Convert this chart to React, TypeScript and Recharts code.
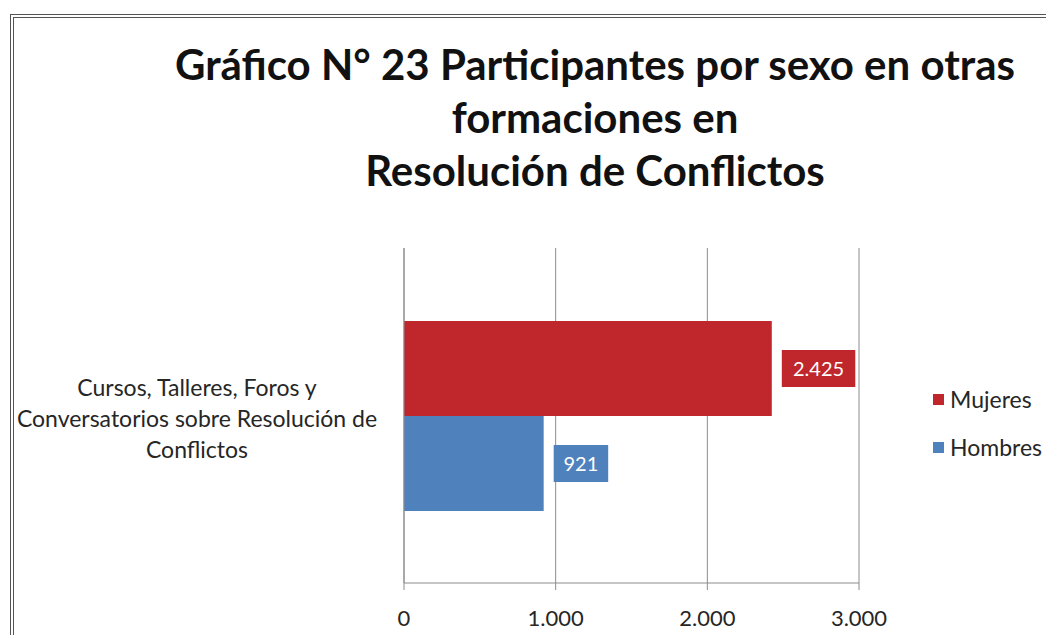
import { BarChart, Bar, XAxis, YAxis, CartesianGrid, LabelList } from 'recharts'

const categories = ['Cursos, Talleres, Foros y|Conversatorios sobre Resolución de|Conflictos']
const mujeres = [2425]
const hombres = [921]
const xTicks = [0, 1000, 2000, 3000]

const series = [
  { key: 'mujeres', name: 'Mujeres', color: '#C0272D', values: mujeres },
  { key: 'hombres', name: 'Hombres', color: '#4F81BD', values: hombres },
]

const data = categories.map((c, i) => ({
  category: c,
  mujeres: mujeres[i],
  hombres: hombres[i],
}))

const FONT = 'Lato, "Open Sans", sans-serif'

const fmt = (v: number) => String(v).replace(/\B(?=(\d{3})+(?!\d))/g, '.')

function CategoryTick({ y, payload }: any) {
  const lines = String(payload.value).split('|')
  return (
    <text x={197} y={y} textAnchor="middle" fontFamily={FONT} fontSize={23} fill="#262626">
      {lines.map((l, i) => (
        <tspan key={i} x={197} dy={i === 0 ? -31 + 11 : 31}>
          {l}
        </tspan>
      ))}
    </text>
  )
}

function makeLabel(color: string) {
  return function ValueLabel(props: any) {
    const { x, y, width, height, value } = props
    const text = fmt(value)
    const w = text.length * 9.5 + 26
    const h = 37
    const bx = x + width + 10
    const cy = y + height / 2
    return (
      <g>
        <rect x={bx} y={cy - h / 2} width={w} height={h} fill={color} />
        <text
          x={bx + w / 2}
          y={cy}
          dy={7}
          textAnchor="middle"
          fontFamily={FONT}
          fontSize={20}
          fill="#ffffff"
        >
          {text}
        </text>
      </g>
    )
  }
}

function LegendBox() {
  return (
    <div style={{ position: 'absolute', left: 933, top: 375, fontFamily: FONT, fontSize: 23, color: '#262626' }}>
      {series.map((s) => (
        <div key={s.key} style={{ display: 'flex', alignItems: 'center', height: 48 }}>
          <span style={{ width: 11, height: 11, background: s.color, marginRight: 6 }} />
          {s.name}
        </div>
      ))}
    </div>
  )
}

export default function App() {
  return (
    <div style={{ position: 'relative', margin: -8, width: 1054, height: 643, background: '#fff', overflow: 'hidden' }}>
      <div
        style={{
          position: 'absolute',
          left: 10,
          top: 14,
          width: 1060,
          height: 700,
          borderTop: '4px double #555',
          borderLeft: '4px double #555',
          boxSizing: 'border-box',
        }}
      />
      <div
        style={{
          position: 'absolute',
          left: 140,
          top: 38,
          width: 910,
          textAlign: 'center',
          fontFamily: FONT,
          fontWeight: 700,
          fontSize: 42,
          lineHeight: '53px',
          color: '#111',
        }}
      >
        Gráfico N° 23 Participantes por sexo en otras
        <br />
        formaciones en
        <br />
        Resolución de Conflictos
      </div>
      <div style={{ position: 'absolute', left: 0, top: 0 }}>
        <BarChart
          width={1054}
          height={643}
          data={data}
          layout="vertical"
          margin={{ top: 248, right: 195, bottom: 0, left: 0 }}
          barGap={0}
        >
          <CartesianGrid horizontal={false} stroke="#8c8c8c" strokeWidth={1} />
          <XAxis
            type="number"
            domain={[0, 3000]}
            ticks={xTicks}
            tickFormatter={fmt}
            height={60}
            stroke="#8c8c8c"
            tickSize={7}
            tick={{ fill: '#262626', fontSize: 22, fontFamily: FONT, dy: 18 }}
          />
          <YAxis
            type="category"
            dataKey="category"
            width={404}
            stroke="#8c8c8c"
            tickLine={false}
            tick={<CategoryTick />}
          />
          {series.map((s) => (
            <Bar key={s.key} dataKey={s.key} name={s.name} fill={s.color} barSize={95} isAnimationActive={false}>
              <LabelList dataKey={s.key} content={makeLabel(s.color)} />
            </Bar>
          ))}
        </BarChart>
      </div>
      <LegendBox />
    </div>
  )
}
